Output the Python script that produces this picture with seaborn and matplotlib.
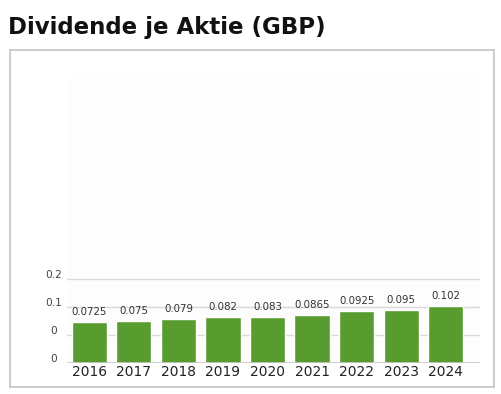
import matplotlib
matplotlib.use("Agg")
import matplotlib.pyplot as plt
import matplotlib.transforms as mtransforms
from matplotlib.patches import Rectangle
import seaborn as sns
import pandas as pd

# Dividend per share, GBP
years = ["2016", "2017", "2018", "2019", "2020", "2021", "2022", "2023", "2024"]
dividends = [0.0725, 0.075, 0.079, 0.082, 0.083, 0.0865, 0.0925, 0.095, 0.102]
y_ticks = [0, 0.05, 0.1, 0.15]
y_tick_labels = ["0", "0", "0.1", "0.2"]
title = "Dividende je Aktie (GBP)"

df = pd.DataFrame({"Jahr": years, "Dividende": dividends})

sns.set_theme(style="white")
plt.rcParams["font.family"] = ["DejaVu Sans"]

W, H = 502, 394
fig = plt.figure(figsize=(W / 100, H / 100), dpi=100)
fig.patch.set_facecolor("white")

# outer frame around the chart
fig.add_artist(Rectangle((10.5 / W, 7 / H), 483.5 / W, 337 / H,
                         transform=fig.transFigure, fill=False,
                         edgecolor="#c2c2c2", linewidth=1.2))

fig.text(8 / W, 1 - 34 / H, title, fontsize=16.5, fontweight="bold",
         family=["DejaVu Sans"], color="#111111", va="baseline")

ax = fig.add_axes([67 / W, 31 / H, 413 / W, 285 / H])
ax.set_facecolor("#fdfdfd")

sns.barplot(data=df, x="Jahr", y="Dividende", color="#589c30",
            saturation=1, width=0.79, ax=ax, zorder=3)

ax.set_xlim(-0.5, 8.77)
ax.set_ylim(0, 0.509)

for y in y_ticks[1:]:
    ax.axhline(y, color="#d9d9d9", linewidth=1, zorder=1)
ax.axhline(0, color="#c8c8c8", linewidth=1.2, zorder=4)

# y tick labels sit centred left of the plot, just above their gridlines
ax.set_yticks(y_ticks)
ax.set_yticklabels([])
ylab_tr = ax.get_yaxis_transform() + mtransforms.ScaledTranslation(
    -13 / 100, 1.5 / 100, fig.dpi_scale_trans)
for y, lab in zip(y_ticks, y_tick_labels):
    ax.text(0, y, lab, transform=ylab_tr, ha="center", va="baseline",
            fontsize=7.6, color="#444444")

ax.tick_params(axis="x", labelsize=9.9, labelcolor="#222222", pad=1.5, length=0)
ax.tick_params(axis="y", length=0, pad=0)
ax.set_xlabel("")
ax.set_ylabel("")
for s in ax.spines.values():
    s.set_visible(False)

for i, v in enumerate(dividends):
    ax.annotate(f"{v:g}", (i, v), xytext=(0, 5), textcoords="offset points",
                ha="center", va="baseline", fontsize=7.4, color="#333333",
                zorder=5)

fig.savefig("out.png", dpi=100, facecolor="white")
